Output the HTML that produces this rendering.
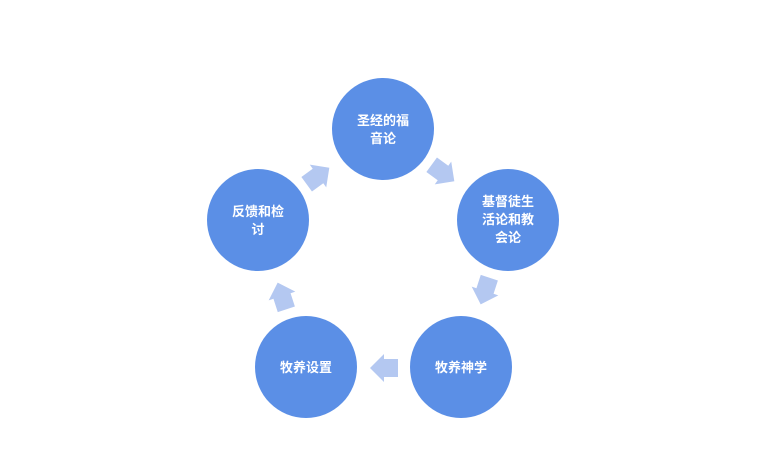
<!DOCTYPE html>
<html><head><meta charset="utf-8"><style>
html,body{margin:0;padding:0;background:#fff;}
svg text{font-family:"Liberation Sans","Noto Sans CJK SC",sans-serif;font-weight:bold;font-size:13px;fill:#fff;text-anchor:middle;}
</style></head><body>
<svg width="758" height="453" viewBox="0 0 758 453" xmlns="http://www.w3.org/2000/svg">
<defs><path id="ar" d="M-14,-9 L0,-9 L0,-14 L14,0 L0,14 L0,9 L-14,9 Z" fill="#b4c8f1"/></defs>
<use href="#ar" transform="translate(318,176) rotate(-36)"/>
<use href="#ar" transform="translate(443,173) rotate(36)"/>
<use href="#ar" transform="translate(485,291) rotate(108)"/>
<use href="#ar" transform="translate(384,368) rotate(180)"/>
<use href="#ar" transform="translate(282,296) rotate(-108)"/>
<g fill="#5b8fe6">
<circle cx="383" cy="129" r="51"/>
<circle cx="508" cy="220" r="51"/>
<circle cx="461" cy="367" r="51"/>
<circle cx="306" cy="367" r="51"/>
<circle cx="258" cy="220" r="51"/>
</g>
<text x="383" y="125">圣经的福</text><text x="383" y="143">音论</text>
<text x="508" y="206">基督徒生</text><text x="508" y="224">活论和教</text><text x="508" y="242">会论</text>
<text x="461" y="372">牧养神学</text>
<text x="306" y="372">牧养设置</text>
<text x="258" y="216">反馈和检</text><text x="258" y="234">讨</text>
</svg>
</body></html>
